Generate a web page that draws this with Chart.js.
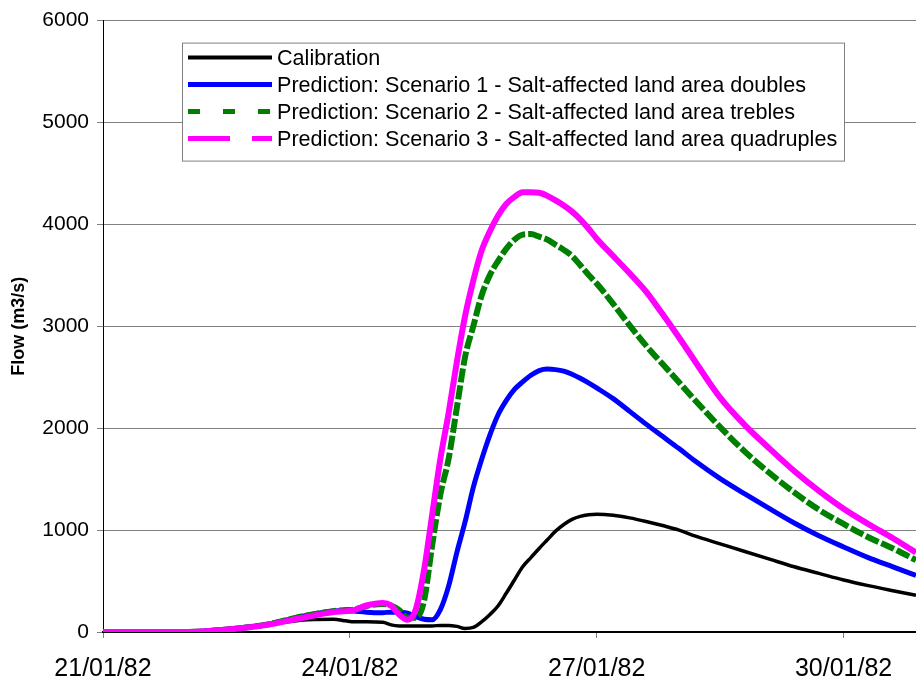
<!DOCTYPE html>
<html>
<head>
<meta charset="utf-8">
<title>Flow - calibration and scenarios</title>
<script src="https://cdn.jsdelivr.net/npm/chart.js@4/dist/chart.umd.min.js"></script>
<style>
    html, body { margin: 0; padding: 0; background: #fff; }
    #wrap { width: 916px; height: 684px; }
</style>
</head>
<body>
<div id="wrap"><canvas id="flowChart" width="916" height="684"></canvas></div>
<script>
// time in days since 21/01/82 00:00
const days = [0, 1.0, 1.3, 1.7, 2.0, 2.4, 2.8,
    2.95, 3.05, 3.2, 3.4, 3.5, 3.6, 3.7, 3.8, 3.9,
    4.0, 4.1, 4.2, 4.3, 4.4, 4.5, 4.6, 4.7, 4.8, 4.9,
    5.0, 5.1, 5.2, 5.3, 5.4, 5.5, 5.6, 5.7, 5.8, 5.9,
    6.0, 6.2, 6.4, 6.6, 6.8, 7.0, 7.2, 7.5, 7.8,
    8.1, 8.4, 8.7, 9.0, 9.3, 9.6, 9.88];

// flow (m3/s)
const calibration = [0, 0, 15, 40, 70, 115, 125,
    110, 100, 100, 95, 70, 60, 60, 60, 60,
    60, 65, 65, 55, 35, 45, 100, 170, 255, 380,
    510, 640, 730, 820, 905, 990, 1055, 1105, 1135, 1150,
    1155, 1145, 1120, 1085, 1045, 1000, 940, 865, 790,
    715, 640, 575, 510, 455, 405, 360];

const scenario1 = [0, 0, 15, 45, 75, 150, 205,
    210, 205, 195, 190, 195, 195, 185, 150, 125,
    120, 220, 450, 780, 1080, 1420, 1690, 1930, 2130, 2270,
    2380, 2455, 2520, 2565, 2580, 2575, 2560, 2530, 2490, 2445,
    2395, 2290, 2165, 2040, 1920, 1800, 1675, 1505, 1355,
    1210, 1070, 945, 835, 730, 640, 555];

const scenario2 = [0, 0, 10, 40, 75, 150, 205,
    215, 220, 255, 275, 260, 215, 140, 140, 300,
    850, 1350, 1700, 2200, 2700, 3000, 3300, 3500, 3640, 3760,
    3850, 3900, 3905, 3880, 3850, 3800, 3750, 3690, 3600, 3505,
    3420, 3220, 3010, 2810, 2630, 2450, 2270, 2010, 1770,
    1560, 1370, 1200, 1060, 930, 820, 705];

const scenario3 = [0, 0, 10, 40, 70, 135, 195,
    205, 215, 260, 285, 260, 170, 120, 220, 600,
    1150, 1700, 2150, 2650, 3100, 3450, 3740, 3930, 4085, 4200,
    4270, 4315, 4315, 4310, 4280, 4235, 4185, 4125, 4050, 3960,
    3860, 3690, 3520, 3340, 3120, 2890, 2650, 2300, 2030,
    1800, 1580, 1385, 1210, 1060, 920, 780];

const tickDays = [0, 3, 6, 9];
const tickLabels = ['21/01/82', '24/01/82', '27/01/82', '30/01/82'];

const seriesNames = [
    'Calibration',
    'Prediction: Scenario 1 - Salt-affected land area doubles',
    'Prediction: Scenario 2 - Salt-affected land area trebles',
    'Prediction: Scenario 3 - Salt-affected land area quadruples'
];
const seriesColors = ['#000000', '#0000ff', '#008000', '#ff00ff'];
const seriesWidths = [3.5, 5, 6, 6];
const seriesDash = [[], [], [14, 3], []];
const legendDash = [[], [], [12, 23], [42, 22]];

const FONT = '"Liberation Sans", Arial, sans-serif';

function toPoints(values) {
    return values.map((v, i) => ({ x: days[i], y: v }));
}

// legend box drawn inside the plot, like the original
const boxLegend = {
    id: 'boxLegend',
    afterDatasetsDraw(chart) {
        const ctx = chart.ctx;
        const area = chart.chartArea;
        const x0 = area.left + 79;
        const y0 = area.top + 22;
        const w = 662;
        const h = 118;

        ctx.save();
        ctx.fillStyle = '#fff';
        ctx.fillRect(x0, y0, w, h);
        ctx.strokeStyle = '#808080';
        ctx.lineWidth = 1;
        ctx.strokeRect(x0 + 0.5, y0 + 0.5, w, h);

        ctx.font = '21.6px ' + FONT;
        ctx.textBaseline = 'middle';
        chart.data.datasets.forEach((ds, i) => {
            const y = y0 + 15 + i * 27;
            ctx.beginPath();
            ctx.setLineDash(legendDash[i]);
            ctx.strokeStyle = ds.borderColor;
            ctx.lineWidth = i === 0 ? 4 : 5;
            ctx.moveTo(x0 + 6, y);
            ctx.lineTo(x0 + 90, y);
            ctx.stroke();
            ctx.setLineDash([]);
            ctx.fillStyle = '#000';
            ctx.fillText(ds.label, x0 + 95, y + 1);
        });
        ctx.restore();
    }
};

const seriesValues = [calibration, scenario1, scenario2, scenario3];

new Chart(document.getElementById('flowChart'), {
    type: 'line',
    data: {
        datasets: seriesValues.map((vals, i) => ({
            label: seriesNames[i],
            data: toPoints(vals),
            borderColor: seriesColors[i],
            borderWidth: seriesWidths[i],
            borderDash: seriesDash[i],
            pointRadius: 0,
            fill: false,
            cubicInterpolationMode: 'monotone',
            order: 3 - i
        }))
    },
    options: {
        responsive: false,
        animation: false,
        devicePixelRatio: 1,
        layout: { padding: { top: 20, right: 0, bottom: 0, left: 0 } },
        plugins: {
            legend: { display: false },
            tooltip: { enabled: false }
        },
        scales: {
            x: {
                type: 'linear',
                min: 0,
                max: 9.88,
                afterBuildTicks: (scale) => {
                    scale.ticks = tickDays.map(v => ({ value: v }));
                },
                afterFit: (scale) => { scale.height = 52; },
                ticks: {
                    callback: (v) => tickLabels[tickDays.indexOf(v)],
                    font: { family: FONT, size: 25 },
                    color: '#000',
                    padding: 16,
                    maxRotation: 0,
                    autoSkip: false
                },
                grid: {
                    drawOnChartArea: false,
                    drawTicks: true,
                    tickLength: 6,
                    color: '#808080'
                },
                border: { color: '#000', width: 2 }
            },
            y: {
                min: 0,
                max: 6000,
                afterFit: (scale) => { scale.width = 103; },
                ticks: {
                    stepSize: 1000,
                    callback: (v) => String(v),
                    font: { family: FONT, size: 21 },
                    color: '#000',
                    padding: 8
                },
                grid: {
                    color: '#808080',
                    lineWidth: 1,
                    drawTicks: true,
                    tickLength: 6
                },
                border: { color: '#000', width: 1 },
                title: {
                    display: true,
                    text: 'Flow (m3/s)',
                    font: { family: FONT, size: 18, weight: 'bold' },
                    color: '#000',
                    padding: { top: 8, bottom: 0 }
                }
            }
        }
    },
    plugins: [boxLegend]
});
</script>
</body>
</html>
